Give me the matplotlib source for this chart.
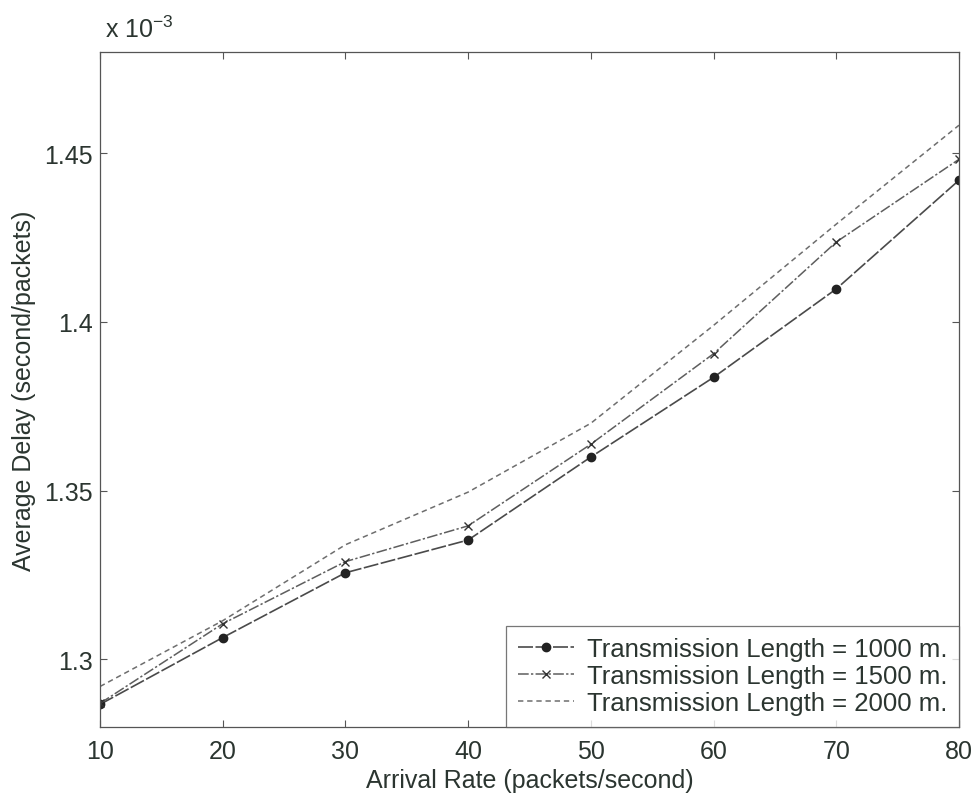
import matplotlib
matplotlib.use("Agg")
import matplotlib.pyplot as plt
from matplotlib.ticker import FixedLocator

plt.rcParams['font.family'] = ['Liberation Sans', 'DejaVu Sans']

arrival_rate = [10, 20, 30, 40, 50, 60, 70, 80]
delay_1000 = [1.2867, 1.3065, 1.3257, 1.3354, 1.3600, 1.3836, 1.4098, 1.4420]
delay_1500 = [1.2870, 1.3106, 1.3290, 1.3396, 1.3638, 1.3906, 1.4237, 1.4482]
delay_2000 = [1.2920, 1.3115, 1.3340, 1.3496, 1.3700, 1.3990, 1.4290, 1.4583]
labels = ["Transmission Length = 1000 m.",
          "Transmission Length = 1500 m.",
          "Transmission Length = 2000 m."]
x_ticks = [10, 20, 30, 40, 50, 60, 70, 80]
y_ticks = [1.30, 1.35, 1.40, 1.45]
y_tick_labels = ["1.3", "1.35", "1.4", "1.45"]

text_color = "#2b3530"

fig = plt.figure(figsize=(9.72, 8.03), dpi=100)
ax = fig.add_axes([0.1029, 0.0934, 0.8837, 0.8406])

ax.plot(arrival_rate, delay_1000, color="#4a4a4a", lw=1.2,
        linestyle=(0, (9, 1.5)), marker="o", markersize=6,
        markerfacecolor="#222222", markeredgecolor="#222222", label=labels[0])
ax.plot(arrival_rate, delay_1500, color="#5e5e5e", lw=1.1,
        linestyle=(0, (7, 1.5, 1.5, 1.5)), marker="x", markersize=6,
        markeredgecolor="#333333", markeredgewidth=1.0, label=labels[1])
ax.plot(arrival_rate, delay_2000, color="#6e6e6e", lw=1.1,
        linestyle=(0, (3.5, 2.5)), label=labels[2])

ax.set_xlim(10, 80)
ax.set_ylim(1.28, 1.48)
ax.xaxis.set_major_locator(FixedLocator(x_ticks))
ax.yaxis.set_major_locator(FixedLocator(y_ticks))
ax.set_yticklabels(y_tick_labels)

ax.tick_params(direction="in", top=True, right=True, length=5, width=0.8,
               labelsize=18, colors="#555555", labelcolor=text_color)
ax.tick_params(axis="x", pad=9)
ax.tick_params(axis="y", pad=5)
for spine in ax.spines.values():
    spine.set_color("#555555")
    spine.set_linewidth(0.9)

ax.set_xlabel("Arrival Rate (packets/second)", fontsize=18, color=text_color,
              labelpad=3)
ax.set_ylabel("Average Delay (second/packets)", fontsize=18, color=text_color,
              labelpad=6)

fig.text(0.108, 0.947, r"x 10$^{\mathregular{-3}}$", fontsize=18,
         color=text_color, ha="left", va="bottom")

leg = ax.legend(loc="lower right", borderaxespad=0, fontsize=18.5,
                frameon=True, fancybox=False, handlelength=2.2,
                handletextpad=0.5, borderpad=0.45, labelspacing=0.12,
                labelcolor=text_color)
leg.get_frame().set_edgecolor("#555555")
leg.get_frame().set_linewidth(0.9)

fig.savefig("out.png", dpi=100, facecolor="white")
